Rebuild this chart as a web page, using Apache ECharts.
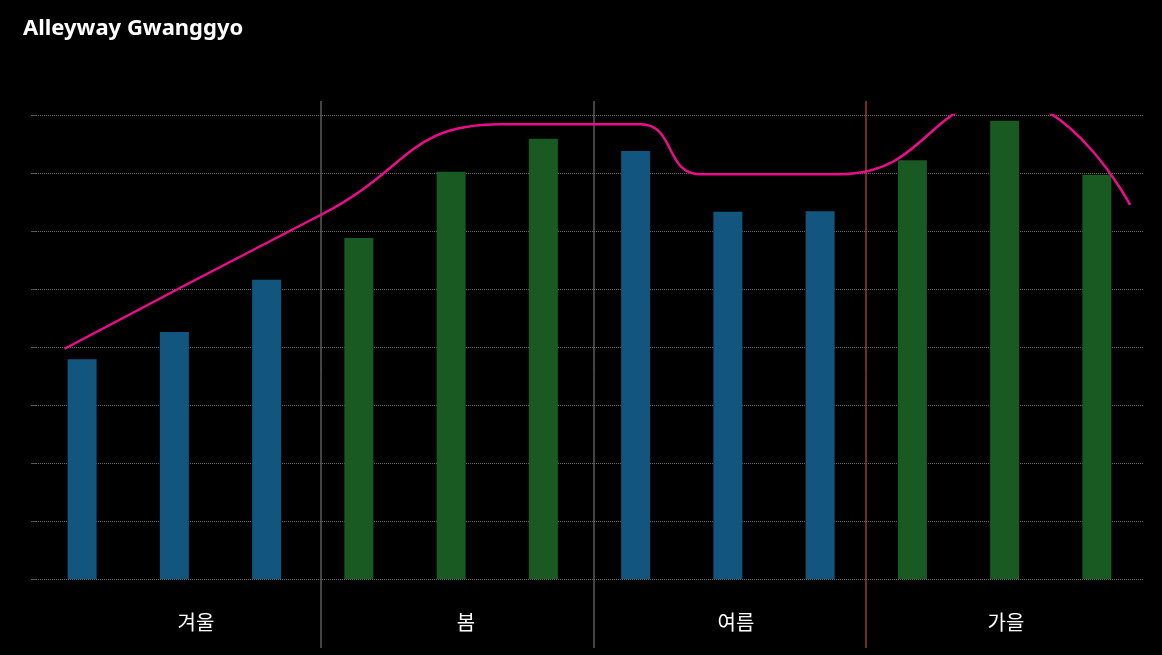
<!DOCTYPE html>
<html><head><meta charset="utf-8">
<script src="https://cdn.jsdelivr.net/npm/echarts@6/dist/echarts.min.js"></script>
<style>html,body{margin:0;background:#000}#c{width:1162px;height:655px}</style></head>
<body><div id="c"></div>
<script>
const months = ['12','1','2','3','4','5','6','7','8','9','10','11'];
const seasons = ['겨울','봄','여름','가을'];
const barValues = [3.79,4.26,5.16,5.88,7.02,7.59,7.38,6.33,6.34,7.22,7.90,6.97];
const barSeasonIdx = [0,0,0,1,1,1,0,0,0,1,1,1];
const lineX = [0.31,3.09,5.04,6.55,7.2,8.72,10.5,11.86];
const lineY = [3.97,6.28,7.84,7.84,6.98,6.98,8.28,6.45];
const dividers = [{x:321,color:'#888'},{x:594,color:'#888'},{x:866,color:'#e8601c'}];
const colors = ['#12557f','#185a22'];

const chart = echarts.init(document.getElementById('c'));
chart.setOption({
  backgroundColor:'#000',
  title:{text:'Alleyway Gwanggyo',left:18,top:13,textStyle:{color:'#fff',fontSize:22,fontWeight:'bold',fontFamily:'Noto Sans'}},
  grid:[{left:36,right:19,top:115,bottom:76},{left:61,right:21,top:115,bottom:76}],
  xAxis:[
    {type:'category',data:months,gridIndex:0,axisLine:{show:false},axisTick:{show:false},axisLabel:{show:false}},
    {type:'value',gridIndex:0,min:0,max:12,show:false},
    {type:'category',data:seasons,gridIndex:1,axisLine:{show:false},axisTick:{show:false},
     axisLabel:{color:'#fff',fontSize:20,margin:33,fontFamily:'Noto Sans CJK KR'}}
  ],
  yAxis:[
    {type:'value',gridIndex:0,min:0,max:8,interval:1,axisLabel:{show:false},axisLine:{show:false},
     splitLine:{lineStyle:{color:'#666',type:'dotted',width:1}}},
    {type:'value',gridIndex:1,min:0,max:8,show:false,splitLine:{show:false}}
  ],
  series:[
    {type:'bar',xAxisIndex:0,yAxisIndex:0,barWidth:29,
     data:barValues.map((v,i)=>({value:v,itemStyle:{color:colors[barSeasonIdx[i]]}}))},
    {type:'line',xAxisIndex:1,yAxisIndex:0,smooth:0.5,symbol:'none',clip:false,
     lineStyle:{color:'#ec0c8c',width:2.5},data:lineX.map((x,i)=>[x,lineY[i]])}
  ],
  graphic:dividers.map(d=>({type:'line',shape:{x1:d.x,y1:101,x2:d.x,y2:648},style:{stroke:d.color,lineWidth:1}}))
});
</script></body></html>
